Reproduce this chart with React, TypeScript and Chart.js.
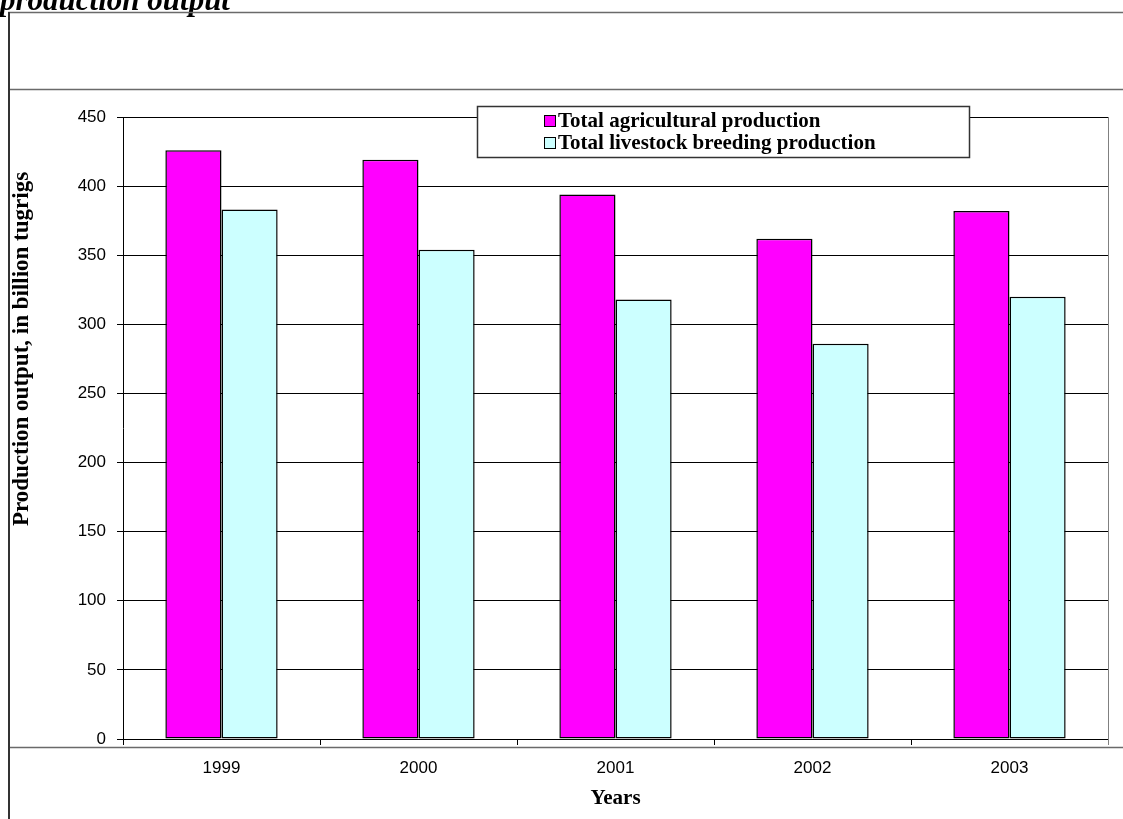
import React, { useEffect, useRef } from "react";
import { Chart, registerables } from "chart.js";

Chart.register(...registerables);

// Production output by year, billion tugrigs
const years = ["1999", "2000", "2001", "2002", "2003"];
const agricultural = [426, 419, 394, 362, 382];
const livestock = [383, 354, 318, 286, 320];

const seriesNames = [
  "Total agricultural production",
  "Total livestock breeding production",
];
const seriesColors = ["#FF00FF", "#CCFFFF"];

const yMin = 0;
const yMax = 450;
const yStep = 50;

const heading = "production output";
const yTitle = "Production output, in billion tugrigs";
const xTitle = "Years";

const SANS = "'Liberation Sans', Arial, sans-serif";
const SERIF = "'Liberation Serif', 'Times New Roman', serif";

// Draws the page frame, the boxed legend, the value-axis caption and the clipped heading
const framePlugin = {
  id: "frame",
  beforeDraw(chart: any) {
    const { ctx, width, height } = chart;
    ctx.save();
    ctx.fillStyle = "#ffffff";
    ctx.fillRect(0, 0, width, height);
    ctx.restore();
  },
  afterDraw(chart: any) {
    const { ctx, width, height, chartArea: a } = chart;
    const line = (x1: number, y1: number, x2: number, y2: number) => {
      ctx.beginPath();
      ctx.moveTo(x1, y1);
      ctx.lineTo(x2, y2);
      ctx.stroke();
    };
    ctx.save();

    // heading, mostly above the page top
    ctx.fillStyle = "#000";
    ctx.font = `italic bold 31px ${SERIF}`;
    ctx.textAlign = "left";
    ctx.textBaseline = "alphabetic";
    ctx.fillText(heading, 0, 10);

    // outer frame
    ctx.strokeStyle = "#6a6a6a";
    ctx.lineWidth = 1.5;
    line(8, 12.5, width, 12.5);
    line(8, 89.5, width, 89.5);
    line(8, 747.5, width, 747.5);
    ctx.strokeStyle = "#333";
    ctx.lineWidth = 2;
    line(9, 12, 9, height);

    // plot area right border
    ctx.strokeStyle = "#808080";
    ctx.lineWidth = 1;
    line(Math.round(a.right) + 0.5, a.top, Math.round(a.right) + 0.5, a.bottom + 6);

    // value-axis caption
    ctx.save();
    ctx.translate(22, 349);
    ctx.rotate(-Math.PI / 2);
    ctx.font = `bold 23px ${SERIF}`;
    ctx.textAlign = "center";
    ctx.textBaseline = "middle";
    ctx.fillStyle = "#000";
    ctx.fillText(yTitle, 0, 0);
    ctx.restore();

    // legend box
    const bx = 477.5, by = 106.5, bw = 492, bh = 51;
    ctx.fillStyle = "#fff";
    ctx.fillRect(bx, by, bw, bh);
    ctx.strokeStyle = "#333";
    ctx.lineWidth = 1.5;
    ctx.strokeRect(bx, by, bw, bh);

    ctx.font = `bold 21px ${SERIF}`;
    ctx.textAlign = "left";
    ctx.textBaseline = "middle";
    chart.data.datasets.forEach((ds: any, i: number) => {
      const cy = 121 + i * 22;
      ctx.fillStyle = ds.backgroundColor;
      ctx.fillRect(544.5, cy - 5.5, 11, 11);
      ctx.strokeStyle = "#000";
      ctx.lineWidth = 1;
      ctx.strokeRect(544.5, cy - 5.5, 11, 11);
      ctx.fillStyle = "#000";
      ctx.fillText(ds.label, 558, cy + 1);
    });
    ctx.restore();
  },
};

export default function App() {
  const ref = useRef<HTMLCanvasElement>(null);

  useEffect(() => {
    const canvas = ref.current;
    if (!canvas) return;
    const chart = new Chart(canvas, {
      type: "bar",
      data: {
        labels: years,
        datasets: [
          {
            label: seriesNames[0],
            data: agricultural,
            backgroundColor: seriesColors[0],
            borderColor: "#000",
            borderWidth: 1.5,
            borderSkipped: false,
          },
          {
            label: seriesNames[1],
            data: livestock,
            backgroundColor: seriesColors[1],
            borderColor: "#000",
            borderWidth: 1.5,
            borderSkipped: false,
          },
        ],
      },
      options: {
        responsive: false,
        animation: false,
        devicePixelRatio: 1,
        layout: { padding: { top: 117, right: 15, left: 0, bottom: 0 } },
        datasets: {
          bar: { categoryPercentage: 0.57, barPercentage: 1 },
        },
        plugins: {
          legend: { display: false },
          title: { display: false },
          tooltip: { enabled: false },
        },
        scales: {
          x: {
            grid: {
              offset: true,
              drawOnChartArea: false,
              drawTicks: true,
              tickLength: 6,
              color: "#000",
            },
            border: { display: true, color: "#000", width: 1 },
            ticks: {
              color: "#000",
              font: { family: SANS, size: 17 },
              padding: 13,
              maxRotation: 0,
            },
            title: {
              display: true,
              text: xTitle,
              color: "#000",
              font: { family: SERIF, size: 21, weight: "bold" },
              padding: { top: 0, bottom: 8 },
            },
            afterFit: (scale: any) => {
              scale.height = 80;
            },
          },
          y: {
            min: yMin,
            max: yMax,
            grid: {
              color: "#000",
              lineWidth: 1,
              drawTicks: true,
              tickLength: 6,
            },
            border: { display: true, color: "#000", width: 1 },
            ticks: {
              stepSize: yStep,
              color: "#000",
              font: { family: SANS, size: 17 },
              padding: 11,
            },
            afterFit: (scale: any) => {
              scale.width = 123;
            },
          },
        },
      },
      plugins: [framePlugin],
    });
    return () => chart.destroy();
  }, []);

  return (
    <div
      style={{
        position: "absolute",
        left: 0,
        top: 0,
        width: 1123,
        height: 819,
        background: "#fff",
        overflow: "hidden",
      }}
    >
      <canvas
        ref={ref}
        width={1123}
        height={819}
        style={{ display: "block", width: 1123, height: 819 }}
      />
    </div>
  );
}
